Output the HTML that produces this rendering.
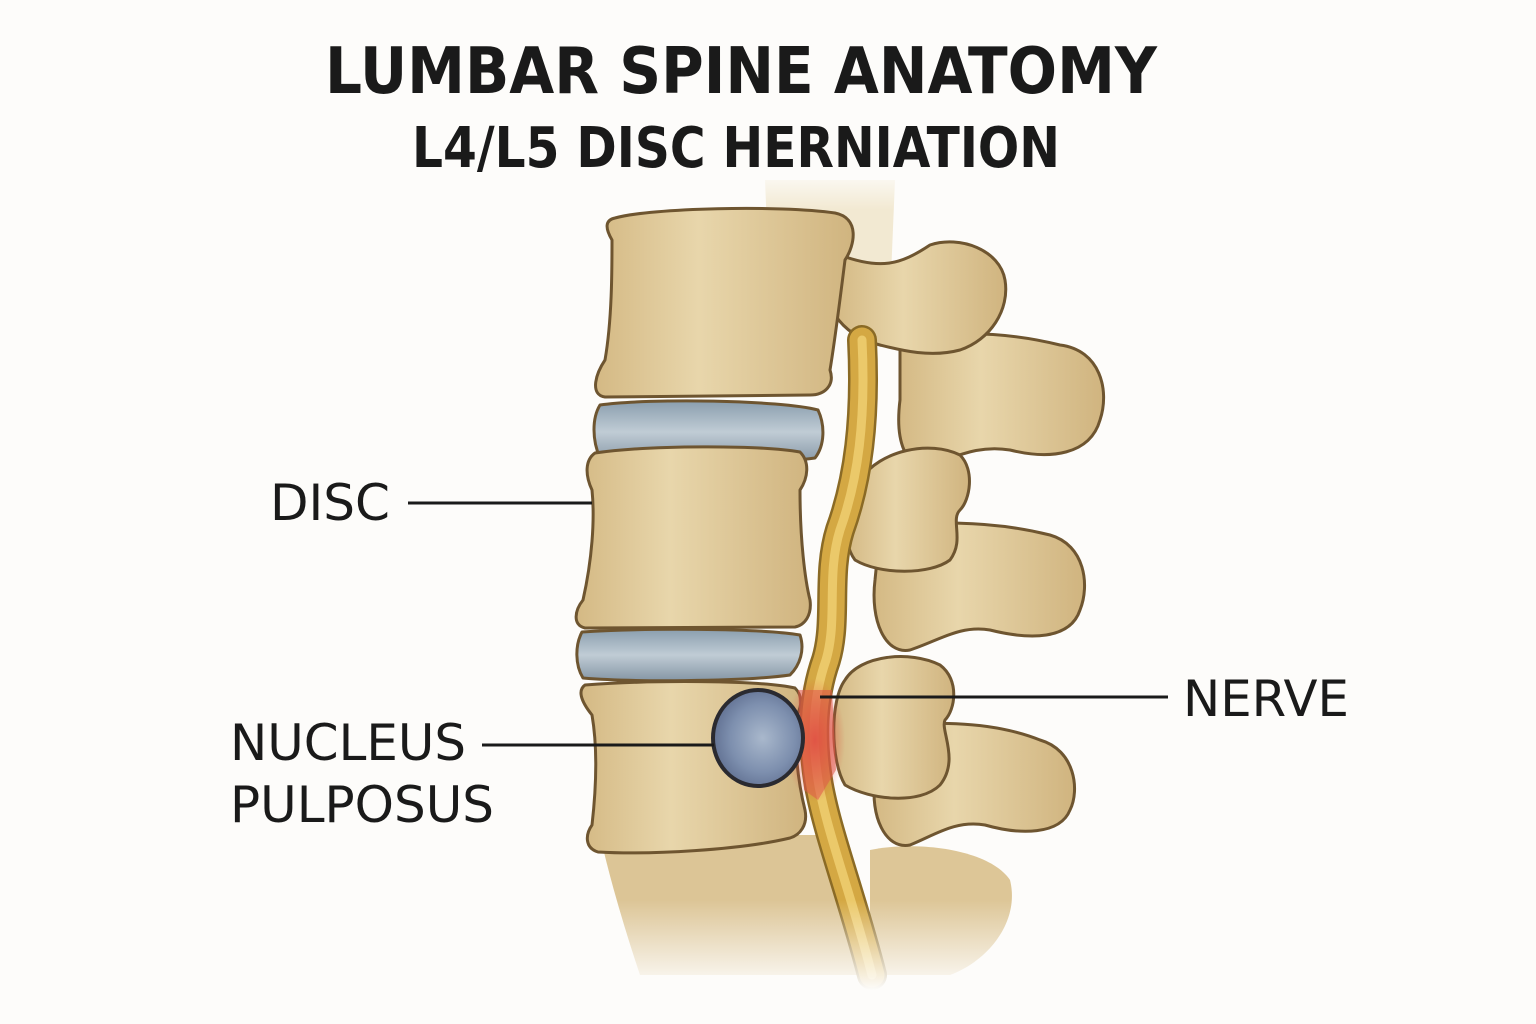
<!DOCTYPE html>
<html><head><meta charset="utf-8"><style>
html,body{margin:0;padding:0;background:#fdfcfa;}
svg{display:block}
text{font-family:"DejaVu Sans","Liberation Sans",sans-serif;fill:#1a1a1a}
</style></head><body>
<svg width="1536" height="1024" viewBox="0 0 1536 1024" xmlns="http://www.w3.org/2000/svg">
<defs>
<linearGradient id="bone" x1="0" x2="1" y1="0" y2="0">
<stop offset="0" stop-color="#d4b984"/><stop offset="0.4" stop-color="#e8d6ab"/><stop offset="1" stop-color="#d0b47f"/></linearGradient>
<linearGradient id="disc" x1="0" y1="0" x2="0" y2="1">
<stop offset="0" stop-color="#8a9eae"/><stop offset="0.5" stop-color="#c0ccd5"/><stop offset="1" stop-color="#8596a5"/></linearGradient>
<radialGradient id="nuc" cx="0.55" cy="0.5" r="0.6">
<stop offset="0" stop-color="#a9b8cc"/><stop offset="0.6" stop-color="#7d8fae"/><stop offset="1" stop-color="#5b6a8c"/></radialGradient>
<linearGradient id="fade" x1="0" y1="0" x2="0" y2="1"><stop offset="0" stop-color="#fdfcfa" stop-opacity="0"/><stop offset="1" stop-color="#fdfcfa" stop-opacity="1"/></linearGradient>
<radialGradient id="red" cx="0.5" cy="0.5" r="0.5"><stop offset="0" stop-color="#e0463a"/><stop offset="1" stop-color="#e0463a" stop-opacity="0"/></radialGradient>
</defs>

<text x="741" y="93" font-size="64" font-weight="bold" text-anchor="middle" textLength="832" lengthAdjust="spacingAndGlyphs">LUMBAR SPINE ANATOMY</text>
<text x="736" y="167" font-size="56" font-weight="bold" text-anchor="middle" textLength="648" lengthAdjust="spacingAndGlyphs">L4/L5 DISC HERNIATION</text>

<!-- cord top -->
<path d="M765 180 L895 180 L890 300 L770 300 Z" fill="#efe3c8" opacity="0.8"/>
<rect x="760" y="170" width="140" height="40" fill="url(#fade)" transform="rotate(180 830 190)"/>

<!-- lower processes faded -->
<path d="M870 850 C920 840 990 850 1010 880 C1020 920 990 960 950 975 L870 975 Z" fill="#ddc697"/>
<g stroke="#6e5530" stroke-width="3" fill="url(#bone)" stroke-linejoin="round">
<path d="M900 345 C930 330 1000 330 1060 345 C1100 350 1110 390 1100 420 C1090 455 1050 460 1010 450 C980 445 960 455 930 465 C905 470 895 440 900 400 Z"/>
<path d="M880 530 C920 520 990 520 1050 535 C1085 545 1090 585 1080 610 C1070 640 1030 640 990 630 C960 625 940 640 910 650 C885 655 870 620 875 580 Z"/>
<path d="M880 730 C920 720 990 720 1040 740 C1075 750 1080 790 1070 810 C1060 835 1020 835 985 825 C955 820 935 835 910 845 C885 850 870 815 875 780 Z"/>
<path d="M840 255 C880 270 900 265 930 245 C960 235 1000 250 1005 280 C1010 310 990 340 960 350 C930 358 900 350 880 345 C860 340 845 330 835 315 Z"/>
<path d="M860 480 C880 450 930 440 960 455 C975 470 970 500 960 510 C950 520 965 540 950 560 C930 575 880 575 855 560 C840 540 845 500 860 480 Z"/>
<path d="M845 680 C860 655 910 650 940 665 C960 680 955 710 945 720 C940 730 960 760 940 785 C920 805 870 800 845 785 C830 760 830 700 845 680 Z"/>
</g>

<!-- lower column -->
<path d="M600 835 L820 835 C835 880 850 930 860 975 L640 975 C625 930 610 880 600 835 Z" fill="#dcc596"/>

<g stroke="#6e5530" stroke-width="3" stroke-linejoin="round">
<path d="M615 218 C650 208 780 205 835 213 C860 218 855 245 845 260 C840 300 835 340 830 370 C835 385 825 395 810 395 L605 397 C590 395 595 375 605 360 C612 320 612 270 612 240 C605 228 605 220 615 218 Z" fill="url(#bone)"/>
<path d="M600 405 C650 398 780 400 818 410 C825 425 825 445 815 458 C760 465 650 465 600 458 C592 440 592 418 600 405 Z" fill="url(#disc)"/>
<path d="M595 453 C650 445 760 445 800 452 C810 462 808 478 800 490 C800 540 805 580 810 600 C812 615 805 625 795 627 L585 628 C572 625 575 610 583 600 C592 560 595 520 592 490 C585 475 585 460 595 453 Z" fill="url(#bone)"/>
<path d="M582 632 C640 628 760 628 800 635 C805 650 800 665 790 675 C740 682 630 682 583 678 C575 665 575 645 582 632 Z" fill="url(#disc)"/>
<path d="M585 685 C650 680 760 680 795 688 C805 698 800 710 795 720 C795 760 800 790 805 810 C808 825 800 835 790 838 C740 850 650 855 598 852 C585 848 585 835 592 825 C596 790 598 750 592 715 C580 700 578 690 585 685 Z" fill="url(#bone)"/>
</g>

<!-- nerve -->
<path id="nv" d="M862 340 C866 420 858 480 840 530 C826 575 838 620 826 660 C812 700 812 740 818 780 C826 830 850 890 872 975" fill="none" stroke="#8a6a25" stroke-width="30" stroke-linecap="round"/>
<path d="M862 340 C866 420 858 480 840 530 C826 575 838 620 826 660 C812 700 812 740 818 780 C826 830 850 890 872 975" fill="none" stroke="#d4a843" stroke-width="25" stroke-linecap="round"/>
<path d="M862 340 C866 420 858 480 840 530 C826 575 838 620 826 660 C812 700 812 740 818 780 C826 830 850 890 872 975" fill="none" stroke="#ebc96a" stroke-width="9" stroke-linecap="round"/>
<ellipse cx="815" cy="740" rx="30" ry="62" fill="url(#red)" opacity="0.9"/>
<path d="M798 690 L832 690 L836 770 L818 800 L804 790 Z" fill="#e0574a" opacity="0.55"/>

<ellipse cx="758" cy="738" rx="45" ry="48" fill="url(#nuc)" stroke="#2a2a30" stroke-width="4"/>

<rect x="560" y="900" width="480" height="90" fill="url(#fade)"/>

<g stroke="#1a1a1a" stroke-width="3">
<line x1="408" y1="503" x2="592" y2="503"/>
<line x1="482" y1="745" x2="714" y2="745"/>
<line x1="820" y1="697" x2="1168" y2="697"/>
</g>
<text x="270" y="520" font-size="50" textLength="120" lengthAdjust="spacingAndGlyphs">DISC</text>
<text x="230" y="760" font-size="50" textLength="236" lengthAdjust="spacingAndGlyphs">NUCLEUS</text>
<text x="230" y="822" font-size="50" textLength="264" lengthAdjust="spacingAndGlyphs">PULPOSUS</text>
<text x="1183" y="716" font-size="50" textLength="166" lengthAdjust="spacingAndGlyphs">NERVE</text>
</svg>
</body></html>
